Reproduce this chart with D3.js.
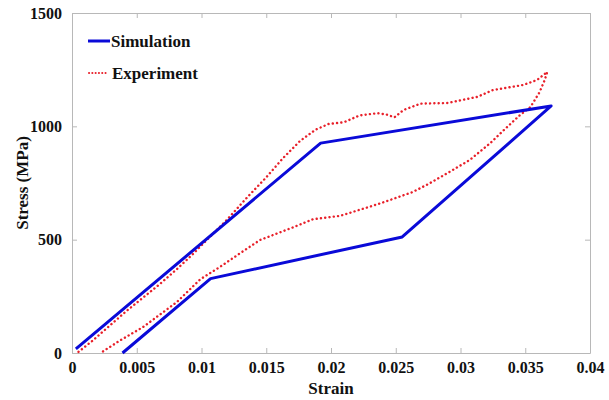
<!DOCTYPE html>
<html>
<head>
<meta charset="utf-8">
<script src="https://cdn.jsdelivr.net/npm/d3@7"></script>
</head>
<body style="margin:0; background:#fff">
<div id="chart"></div>
<script>
// simulation curve (strain, stress in MPa)
const simStrain = [0.0003, 0.0192, 0.0370, 0.0255, 0.0107, 0.0039];
const simStress = [18, 926, 1090, 512, 328, 0];

// experiment curve, loading then unloading
const expStrain = [0.0005, 0.0016, 0.0030, 0.0042, 0.0055, 0.0068, 0.0081, 0.0094, 0.0104, 0.0120,
  0.0135, 0.0150, 0.0163, 0.0176, 0.0188, 0.0198, 0.0210, 0.0222, 0.0236, 0.0243,
  0.0249, 0.0256, 0.0269, 0.0290, 0.0313, 0.0325, 0.0348, 0.0359, 0.0367,
  0.0365, 0.0361, 0.0354, 0.0346, 0.0336, 0.0323, 0.0307, 0.0290, 0.0275, 0.0263,
  0.0253, 0.0238, 0.0207, 0.0186, 0.0171, 0.0145, 0.0130, 0.0114, 0.0099, 0.0081,
  0.0068, 0.0055, 0.0037, 0.0022];
const expStress = [5, 55, 125, 185, 245, 305, 370, 440, 498, 590,
  685, 775, 860, 935, 985, 1010, 1018, 1048, 1058, 1052,
  1040, 1072, 1100, 1103, 1130, 1160, 1182, 1204, 1240,
  1204, 1150, 1085, 1050, 997, 926, 851, 794, 745, 710,
  690, 660, 605, 590, 555, 498, 441, 379, 325, 225,
  170, 115, 55, 0];

const xTicks = [0, 0.005, 0.01, 0.015, 0.02, 0.025, 0.03, 0.035, 0.04];
const yTicks = [0, 500, 1000, 1500];

const width = 609;
const height = 400;
const margin = {top: 13, left: 72, bottom: 47, right: 19};
const font = 'Liberation Serif';

const sim = simStrain.map((d, i) => ({x: d, y: simStress[i]}));
const exp = expStrain.map((d, i) => ({x: d, y: expStress[i]}));

const x = d3.scaleLinear()
    .domain([0, 0.04])
    .range([margin.left, width - margin.right]);

const y = d3.scaleLinear()
    .domain([0, 1500])
    .range([height - margin.bottom, margin.top]);

const svg = d3.select('#chart').append('svg')
    .attr('width', width)
    .attr('height', height)
    .attr('font-family', font);

const frameColor = '#b8b8b8';

// axes with inward ticks, box all round
const xAxis = g => g
    .attr('transform', `translate(0, ${height - margin.bottom})`)
    .call(d3.axisBottom(x).tickValues(xTicks).tickFormat(d => String(+d.toFixed(3)))
        .tickSizeInner(-5).tickSizeOuter(0).tickPadding(9))
    .call(g => g.selectAll('line, path').attr('stroke', frameColor));

const yAxis = g => g
    .attr('transform', `translate(${margin.left}, 0)`)
    .call(d3.axisLeft(y).tickValues(yTicks).tickFormat(d3.format('d'))
        .tickSizeInner(-5).tickSizeOuter(0).tickPadding(10))
    .call(g => g.selectAll('line, path').attr('stroke', frameColor));

const xTop = g => g
    .attr('transform', `translate(0, ${margin.top})`)
    .call(d3.axisTop(x).tickValues(xTicks).tickFormat('').tickSizeInner(-5).tickSizeOuter(0))
    .call(g => g.selectAll('line, path').attr('stroke', frameColor));

const yRight = g => g
    .attr('transform', `translate(${width - margin.right}, 0)`)
    .call(d3.axisRight(y).tickValues(yTicks).tickFormat('').tickSizeInner(-5).tickSizeOuter(0))
    .call(g => g.selectAll('line, path').attr('stroke', frameColor));

svg.append('g').call(xAxis);
svg.append('g').call(yAxis);
svg.append('g').call(xTop);
svg.append('g').call(yRight);

svg.selectAll('.tick text')
    .attr('font-family', font)
    .attr('font-weight', 'bold')
    .attr('font-size', 16)
    .attr('fill', '#111');

const line = d3.line().x(d => x(d.x)).y(d => y(d.y));

svg.append('path')
    .datum(exp)
    .attr('fill', 'none')
    .attr('stroke', '#e8202a')
    .attr('stroke-width', 2.4)
    .attr('stroke-dasharray', '0.1,4.2')
    .attr('stroke-linecap', 'round')
    .attr('d', line);

svg.append('path')
    .datum(sim)
    .attr('fill', 'none')
    .attr('stroke', '#0a0ad8')
    .attr('stroke-width', 3)
    .attr('stroke-linejoin', 'round')
    .attr('d', line);

// axis titles
svg.append('text')
    .attr('x', (margin.left + width - margin.right) / 2)
    .attr('y', 394)
    .attr('text-anchor', 'middle')
    .attr('font-weight', 'bold')
    .attr('font-size', 17)
    .attr('fill', '#111')
    .text('Strain');

svg.append('text')
    .attr('transform', `translate(28, ${(margin.top + height - margin.bottom) / 2}) rotate(-90)`)
    .attr('text-anchor', 'middle')
    .attr('font-weight', 'bold')
    .attr('font-size', 17)
    .attr('fill', '#111')
    .text('Stress (MPa)');

// legend
const legend = svg.append('g')
    .attr('font-weight', 'bold')
    .attr('font-size', 17)
    .attr('fill', '#111');
legend.append('line')
    .attr('x1', 88).attr('x2', 110).attr('y1', 41).attr('y2', 41)
    .attr('stroke', '#0a0ad8').attr('stroke-width', 3);
legend.append('text')
    .attr('x', 111).attr('y', 47)
    .text('Simulation');
legend.append('line')
    .attr('x1', 89).attr('x2', 107).attr('y1', 73).attr('y2', 73)
    .attr('stroke', '#e8202a').attr('stroke-width', 2)
    .attr('stroke-dasharray', '0.1,3.2').attr('stroke-linecap', 'round');
legend.append('text')
    .attr('x', 112).attr('y', 79)
    .text('Experiment');
</script>
</body>
</html>
